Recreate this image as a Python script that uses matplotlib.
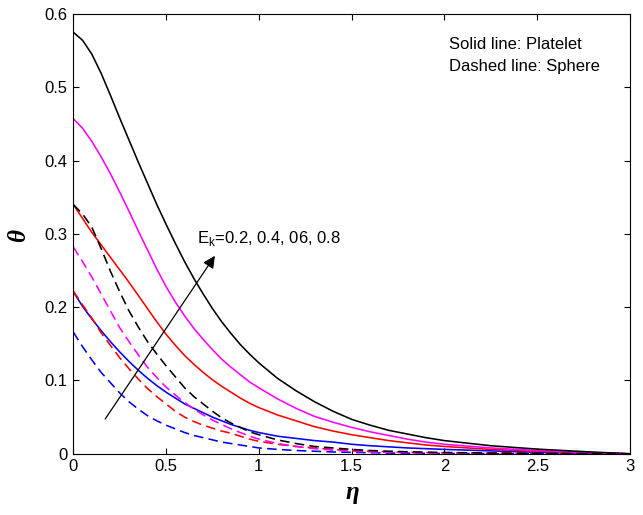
import numpy as np
import matplotlib
matplotlib.use("Agg")
import matplotlib.pyplot as plt

eta = [0.0, 0.05, 0.1, 0.15, 0.2, 0.25, 0.3, 0.35, 0.4, 0.45, 0.5, 0.55, 0.6, 0.65,
       0.7, 0.75, 0.8, 0.85, 0.9, 0.95, 1.0,
       1.1, 1.2, 1.3, 1.4, 1.5, 1.6, 1.7, 1.8, 1.9, 2.0,
       2.25, 2.5, 2.75, 3.0]

# Platelet (solid lines), E_k = 0.2, 0.4, 0.6, 0.8
plat_08 = [0.575, 0.564, 0.545, 0.519, 0.489, 0.458, 0.428, 0.398, 0.369, 0.340, 0.313,
           0.287, 0.262, 0.239, 0.218, 0.198, 0.180, 0.164, 0.149, 0.136, 0.124,
           0.103, 0.086, 0.071, 0.058, 0.047, 0.039, 0.032, 0.027, 0.022, 0.018,
           0.011, 0.0064, 0.003, 0.0]
plat_06 = [0.457, 0.444, 0.426, 0.405, 0.382, 0.357, 0.331, 0.304, 0.278, 0.252, 0.228,
           0.207, 0.188, 0.171, 0.156, 0.142, 0.129, 0.118, 0.108, 0.098, 0.090,
           0.075, 0.062, 0.051, 0.043, 0.036, 0.030, 0.025, 0.020, 0.016, 0.013,
           0.008, 0.0045, 0.002, 0.0]
plat_04 = [0.340, 0.321, 0.302, 0.285, 0.268, 0.251, 0.234, 0.216, 0.198, 0.180, 0.163,
           0.148, 0.134, 0.122, 0.111, 0.101, 0.092, 0.084, 0.076, 0.069, 0.063,
           0.053, 0.045, 0.037, 0.031, 0.026, 0.022, 0.018, 0.015, 0.012, 0.010,
           0.006, 0.0035, 0.0015, 0.0]
plat_02 = [0.221, 0.201, 0.184, 0.168, 0.153, 0.139, 0.126, 0.114, 0.103, 0.093, 0.084,
           0.076, 0.068, 0.062, 0.056, 0.050, 0.045, 0.040, 0.036, 0.032, 0.029,
           0.024, 0.021, 0.018, 0.016, 0.013, 0.011, 0.0095, 0.008, 0.007, 0.006,
           0.004, 0.002, 0.001, 0.0]

# Sphere (dashed lines)
sph_08 = [0.340, 0.327, 0.309, 0.280, 0.249, 0.221, 0.195, 0.173, 0.153, 0.136, 0.120,
          0.105, 0.090, 0.078, 0.068, 0.058, 0.049, 0.042, 0.036, 0.030, 0.026,
          0.019, 0.014, 0.010, 0.008, 0.006, 0.0045, 0.0035, 0.0028, 0.0022, 0.0018,
          0.001, 0.0006, 0.0003, 0.0]
sph_06 = [0.282, 0.262, 0.241, 0.218, 0.195, 0.172, 0.153, 0.135, 0.118, 0.104, 0.091,
          0.080, 0.070, 0.061, 0.053, 0.046, 0.040, 0.034, 0.029, 0.024, 0.020,
          0.014, 0.010, 0.007, 0.005, 0.0035, 0.0025, 0.002, 0.0015, 0.0012, 0.001,
          0.0006, 0.0003, 0.0001, 0.0]
sph_04 = [0.222, 0.203, 0.185, 0.165, 0.148, 0.131, 0.116, 0.102, 0.089, 0.078, 0.068,
          0.058, 0.050, 0.044, 0.039, 0.035, 0.031, 0.028, 0.024, 0.020, 0.017,
          0.013, 0.010, 0.008, 0.006, 0.0045, 0.0035, 0.0028, 0.0022, 0.0017, 0.0013,
          0.0008, 0.0004, 0.0002, 0.0]
sph_02 = [0.166, 0.146, 0.128, 0.111, 0.097, 0.083, 0.071, 0.061, 0.052, 0.045, 0.039,
          0.034, 0.029, 0.025, 0.022, 0.019, 0.016, 0.014, 0.012, 0.010, 0.008,
          0.006, 0.0045, 0.0035, 0.0025, 0.002, 0.0015, 0.001, 0.0008, 0.0006, 0.0005,
          0.0003, 0.0002, 0.0001, 0.0]

colors = ["blue", "red", "magenta", "black"]
platelet = [plat_02, plat_04, plat_06, plat_08]
sphere = [sph_02, sph_04, sph_06, sph_08]

xticks = [0, 0.5, 1, 1.5, 2, 2.5, 3]
xticklabels = ["0", "0.5", "1", "1.5", "2", "2.5", "3"]
yticks = [0, 0.1, 0.2, 0.3, 0.4, 0.5, 0.6]
yticklabels = ["0", "0.1", "0.2", "0.3", "0.4", "0.5", "0.6"]

plt.rcParams['font.family'] = ['Liberation Sans', 'DejaVu Sans']
plt.rcParams['mathtext.fontset'] = 'custom'
plt.rcParams['mathtext.rm'] = 'Liberation Sans'

fig = plt.figure(figsize=(6.43, 5.15), dpi=100)
ax = fig.add_axes([73.3/643, 61.2/515, 556.7/643, 439.9/515])

for c, ys in zip(colors, platelet):
    ax.plot(eta, ys, color=c, lw=1.15, ls='-')
for c, ys in zip(colors, sphere):
    ax.plot(eta, ys, color=c, lw=1.15, ls=(0, (6.0, 3.3)))

ax.set_xlim(0, 3)
ax.set_ylim(0, 0.6)
ax.set_xticks(xticks)
ax.set_xticklabels(xticklabels)
ax.set_yticks(yticks)
ax.set_yticklabels(yticklabels)
ax.tick_params(direction='in', top=True, right=True, labelsize=12, length=4.3,
               width=0.8, pad=4)
for s in ax.spines.values():
    s.set_linewidth(0.8)

ax.text(0.501, -0.087, 'η', transform=ax.transAxes, fontsize=18, fontweight='bold',
        style='italic', family=['Liberation Serif', 'DejaVu Serif'],
        ha='center', va='center')
ax.text(-0.099, 0.497, 'θ', transform=ax.transAxes, fontsize=18, fontweight='bold',
        style='italic', family=['Liberation Serif', 'DejaVu Serif'],
        ha='center', va='center', rotation=90)

ax.annotate('', xy=(0.763, 0.270), xytext=(0.172, 0.0475),
            arrowprops=dict(arrowstyle='-|>', color='black', lw=0.9,
                            mutation_scale=18, shrinkA=0, shrinkB=0))
ax.text(0.664, 0.294, r'E$_\mathregular{k}$=0.2, 0.4, 06, 0.8', fontsize=12,
        va='center', ha='left')

ax.text(2.026, 0.558, 'Solid line: Platelet', fontsize=12, va='center', ha='left')
ax.text(2.026, 0.528, 'Dashed line: Sphere', fontsize=12, va='center', ha='left')

fig.savefig('out.png', dpi=100)
